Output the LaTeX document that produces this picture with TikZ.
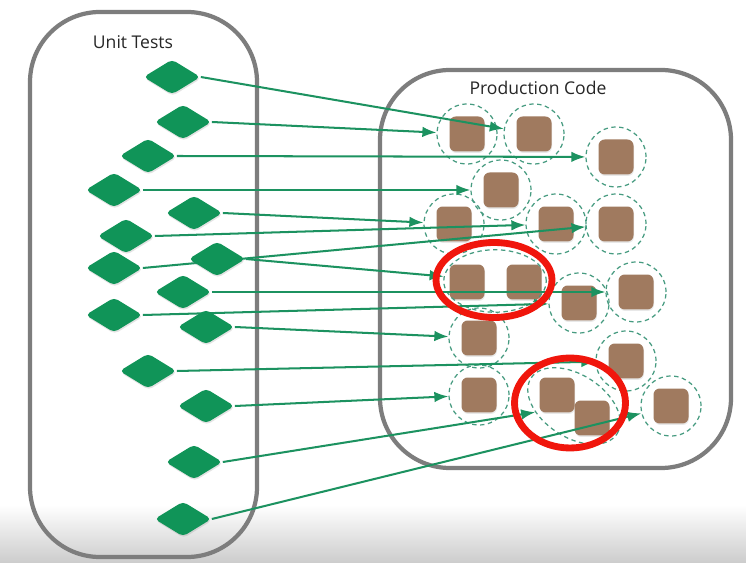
\documentclass[tikz,border=0pt]{standalone}
\usepackage{fontspec}
\setmainfont{Open Sans}
\usetikzlibrary{arrows.meta,shapes.geometric,shadows}
\tikzset{>={Latex[length=8pt,width=6pt]}}
\definecolor{testgreen}{RGB}{16,148,88}
\definecolor{linkgreen}{RGB}{28,146,96}
\definecolor{ringgreen}{RGB}{70,155,128}
\definecolor{codebrown}{RGB}{160,122,95}
\definecolor{framegray}{RGB}{125,125,125}
\definecolor{hilitered}{RGB}{240,22,12}
\tikzset{
  test/.style={diamond,fill=testgreen,minimum width=1.14cm,minimum height=0.7cm,
    inner sep=0pt,rounded corners=2.5pt,
    drop shadow={opacity=0.22,shadow xshift=0.4pt,shadow yshift=-0.9pt}},
  box/.style={rectangle,fill=codebrown,minimum size=0.7cm,inner sep=0pt,rounded corners=3.5pt,
    drop shadow={opacity=0.18,shadow xshift=0.3pt,shadow yshift=-0.8pt}},
  ring/.style={circle,draw=ringgreen,line width=0.7pt,dash pattern=on 2.5pt off 2pt,
    minimum size=1.2cm,inner sep=0pt},
  link/.style={->,linkgreen,line width=1.15pt},
  frame/.style={framegray,line width=2.4pt,rounded corners=1.4cm},
  hilite/.style={hilitered,line width=3.9pt},
}
\pgfdeclarelayer{back}
\pgfdeclarelayer{mid}
\pgfsetlayers{back,mid,main}
\def\unit#1#2{\node[box] at (#2) {}; \node[ring] (#1) at (#2) {}}

\begin{document}
\begin{tikzpicture}[x=0.02cm,y=-0.02cm,font=\fontsize{10}{12}\selectfont]
  \useasboundingbox (0,0) rectangle (746,563);

  \begin{pgfonlayer}{back}
    % page and fade at the bottom
    \fill[white] (0,0) rectangle (746,563);
    \shade[top color=white,bottom color=black!20] (0,505) rectangle (746,563);

    % frames
    \draw[frame] (30,12) rectangle (257,557);
    \draw[frame] (380,70) rectangle (731,468);
    \node[text=black!85] (ut) at (133,42) {Unit Tests};
    \node[text=black!85] (pc) at (538,88) {Production Code};

    % production code
    \unit{u1}{467,134};
    \unit{u2}{534,134};
    \unit{u3}{616,157};
    \unit{u4}{501,190};
    \unit{u5}{454,224};
    \unit{u6}{556,224};
    \unit{u7}{616,224};
    \unit{u10}{579,303};
    \unit{u11}{636,292};
    \unit{u12}{479,338};
    \unit{u13}{626,361};
    \unit{u14}{479,395};
    \unit{u17}{671,406};
    % pairs
    \node[box] at (467,282) {};
    \node[box] at (524,282) {};
    \node[ring,ellipse,minimum width=2.05cm,minimum height=1.25cm] (p1) at (495,281) {};
    \node[box] at (557,395) {};
    \node[box] at (592,418) {};
    \node[ring,ellipse,minimum width=2.05cm,minimum height=1.25cm,rotate=-33] (p2) at (574,406) {};
  \end{pgfonlayer}

  % unit tests
  \node[test] (t1) at (172,77) {};
  \node[test] (t2) at (183,122) {};
  \node[test] (t3) at (148,156) {};
  \node[test] (t4) at (114,190) {};
  \node[test] (t5) at (194,213) {};
  \node[test] (t6) at (126,236) {};
  \node[test] (t7) at (114,268) {};
  \node[test] (t8) at (217,259) {};
  \node[test] (t9) at (183,292) {};
  \node[test] (t10) at (114,315) {};
  \node[test] (t11) at (206,327) {};
  \node[test] (t12) at (148,371) {};
  \node[test] (t13) at (206,406) {};
  \node[test] (t14) at (194,462) {};
  \node[test] (t15) at (183,519) {};

  % links
  \begin{pgfonlayer}{mid}
    \draw[link] (t1.east) -- (u2);
    \draw[link] (t2.east) -- (u1);
    \draw[link] (t3.east) -- (u3);
    \draw[link] (t4.east) -- (u4);
    \draw[link] (t5.east) -- (u5);
    \draw[link] (t6.east) -- (u6);
    \draw[link] (t7.east) -- (u7);
    \draw[link] (t8.east) -- (p1);
    \draw[link] (t9.east) -- (u11);
    \draw[link] (t10.east) -- (u10);
    \draw[link] (t11.east) -- (u12);
    \draw[link] (t12.east) -- (u13);
    \draw[link] (t13.east) -- (u14);
    \draw[link] (t14.east) -- (p2);
    \draw[link] (t15.east) -- (u17);
  \end{pgfonlayer}

  % shared code
  \draw[hilite] (494,280) ellipse [x radius=1.16cm,y radius=0.75cm];
  \draw[hilite] (570,403) ellipse [x radius=1.11cm,y radius=0.9cm];

\end{tikzpicture}
\end{document}
